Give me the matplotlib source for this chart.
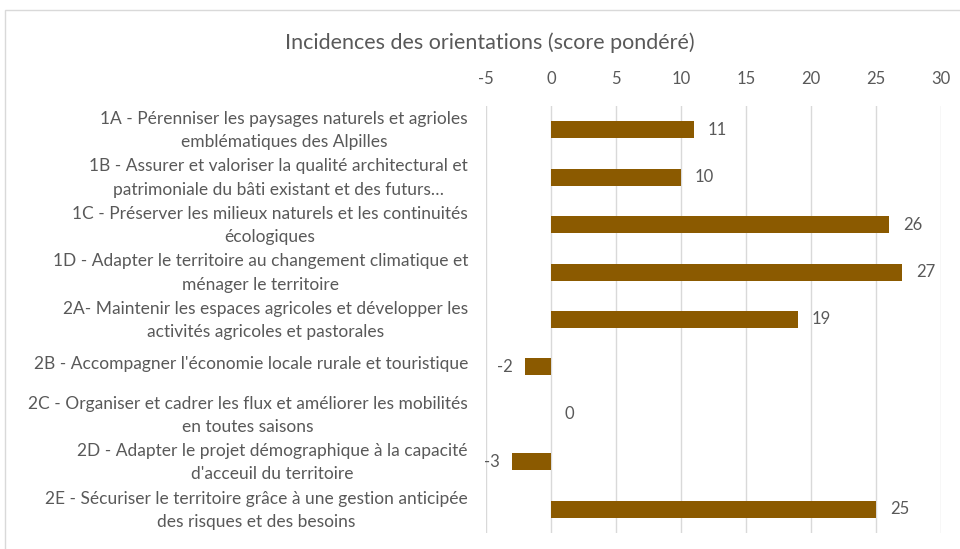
import matplotlib
matplotlib.use("Agg")
import matplotlib.pyplot as plt
from matplotlib.patches import Rectangle
from matplotlib.transforms import ScaledTranslation

categories = [
    "1A - Pérenniser les paysages naturels et agrioles\nemblématiques des Alpilles",
    "1B - Assurer et valoriser la qualité architectural et\npatrimoniale du bâti existant et des futurs…",
    "1C - Préserver les milieux naturels et les continuités\nécologiques",
    "1D - Adapter le territoire au changement climatique et\nménager le territoire",
    "2A- Maintenir les espaces agricoles et développer les\nactivités agricoles et pastorales",
    "2B - Accompagner l'économie locale rurale et touristique",
    "2C - Organiser et cadrer les flux et améliorer les mobilités\nen toutes saisons",
    "2D - Adapter le projet démographique à la capacité\nd'acceuil du territoire",
    "2E - Sécuriser le territoire grâce à une gestion anticipée\ndes risques et des besoins",
]
values = [11, 10, 26, 27, 19, -2, 0, -3, 25]
x_ticks = [-5, 0, 5, 10, 15, 20, 25, 30]
x_tick_labels = ["-5", "0", "5", "10", "15", "20", "25", "30"]
title = "Incidences des orientations (score pondéré)"

plt.rcParams['font.family'] = ['Lato', 'DejaVu Sans']
txt = '#595959'

fig = plt.figure(figsize=(9.6, 5.49), dpi=100)
ax = fig.add_axes([486/960, 1 - 533/549, (941-486)/960, (533-106)/549])

ypos = list(range(len(values)))
ax.barh(ypos, values, height=0.36, color='#8B5A00', linewidth=0, zorder=3)
ax.set_ylim(len(values) - 0.5, -0.5)
ax.set_xlim(-5, 30)
ax.set_xticks(x_ticks)
ax.set_xticklabels(x_tick_labels)
ax.xaxis.tick_top()
ax.tick_params(axis='x', length=0, pad=14, labelsize=12, labelcolor=txt)
ax.set_yticks(ypos)
ax.set_yticklabels(categories, ha='right', multialignment='center', fontsize=12.5, color=txt, linespacing=1.55)
ax.tick_params(axis='y', length=0, pad=13)
shift = ScaledTranslation(0, 3/72, fig.dpi_scale_trans)
for lab in ax.get_yticklabels():
    lab.set_transform(lab.get_transform() + shift)
ax.grid(axis='x', color='#D9D9D9', linewidth=1, zorder=0)
for s in ax.spines.values():
    s.set_visible(False)

for y, v in zip(ypos, values):
    if v < 0:
        ax.annotate(str(v), (v, y), xytext=(-9, 0), textcoords='offset points',
                    ha='right', va='center', fontsize=12, color=txt)
    else:
        ax.annotate(str(v), (v, y), xytext=(10, 0), textcoords='offset points',
                    ha='left', va='center', fontsize=12, color=txt)

fig.text(490/960, 1 - 43/549, title, ha='center', va='center', fontsize=15.5, color=txt)
fig.patches.append(Rectangle((5/960, -0.01), 1.2, 1 - 10/549 + 0.01, transform=fig.transFigure,
                             fill=False, edgecolor='#D9D9D9', linewidth=1))

fig.savefig('out.png', dpi=100)
